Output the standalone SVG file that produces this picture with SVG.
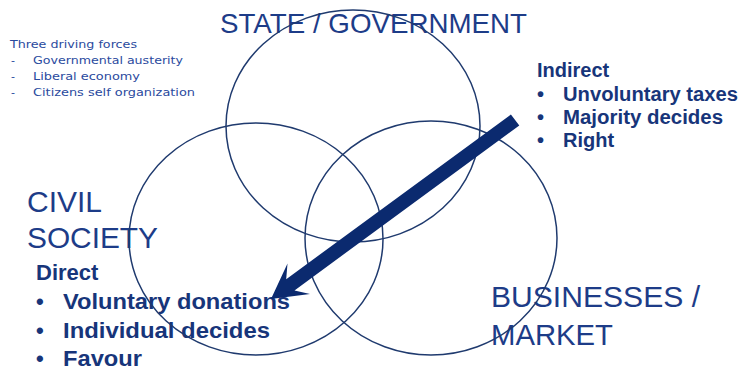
<svg xmlns="http://www.w3.org/2000/svg" width="741" height="370" viewBox="0 0 741 370">
<style>
.big{font-family:"Liberation Sans",Arial,sans-serif;font-size:29px;fill:#1d3c88}
.small{font-family:"DejaVu Sans","Liberation Sans",sans-serif;font-size:11px;fill:#2a4a9e}
.bold{font-family:"Liberation Sans",Arial,sans-serif;font-weight:bold;fill:#17357a}
.ring{fill:none;stroke:#1f3a6e;stroke-width:1.5}
</style>
<rect width="741" height="370" fill="#ffffff"/>
<g id="forces">
<text class="small" x="10" y="48" textLength="127" lengthAdjust="spacingAndGlyphs">Three driving forces</text>
<text class="small" x="11" y="64">-</text>
<text class="small" x="33" y="64" textLength="150" lengthAdjust="spacingAndGlyphs">Governmental austerity</text>
<text class="small" x="11" y="80">-</text>
<text class="small" x="33" y="80" textLength="107" lengthAdjust="spacingAndGlyphs">Liberal economy</text>
<text class="small" x="11" y="96">-</text>
<text class="small" x="33" y="96" textLength="162" lengthAdjust="spacingAndGlyphs">Citizens self organization</text>
</g>
<g id="state">
<text class="big" x="220" y="33" style="font-size:27.5px" textLength="307" lengthAdjust="spacingAndGlyphs">STATE / GOVERNMENT</text>
</g>
<g id="civil">
<text class="big" x="27" y="212" textLength="75" lengthAdjust="spacingAndGlyphs">CIVIL</text>
<text class="big" x="27" y="248" textLength="131" lengthAdjust="spacingAndGlyphs">SOCIETY</text>
</g>
<g id="business">
<text class="big" x="491" y="307" textLength="209" lengthAdjust="spacingAndGlyphs">BUSINESSES /</text>
<text class="big" x="491" y="345" textLength="122" lengthAdjust="spacingAndGlyphs">MARKET</text>
</g>
<g id="indirect" class="bold" style="font-size:20px">
<text x="537" y="77">Indirect</text>
<text x="537" y="101">•</text>
<text x="563" y="101" textLength="175" lengthAdjust="spacingAndGlyphs">Unvoluntary taxes</text>
<text x="537" y="124">•</text>
<text x="563" y="124" textLength="160" lengthAdjust="spacingAndGlyphs">Majority decides</text>
<text x="537" y="147">•</text>
<text x="563" y="147">Right</text>
</g>
<g id="direct" class="bold" style="font-size:22px">
<text x="36" y="280">Direct</text>
<text x="36" y="309">•</text>
<text x="63" y="309" textLength="227" lengthAdjust="spacingAndGlyphs">Voluntary donations</text>
<text x="36" y="338">•</text>
<text x="63" y="338" textLength="207" lengthAdjust="spacingAndGlyphs">Individual decides</text>
<text x="36" y="366">•</text>
<text x="63" y="366" textLength="79" lengthAdjust="spacingAndGlyphs">Favour</text>
</g>
<g id="circles">
<ellipse id="c-state" class="ring" cx="353" cy="126" rx="127" ry="116"/>
<ellipse id="c-civil" class="ring" cx="256" cy="239" rx="127" ry="116"/>
<ellipse id="c-market" class="ring" cx="431" cy="238" rx="126" ry="117"/>
</g>
<g id="connectors">
<polygon fill="#0b2a6f" points="271,299 310,294 294.5,290.4 519.3,125.5 510.9,114.5 286.2,279.2 287.5,263.5"/>
</g>
</svg>
